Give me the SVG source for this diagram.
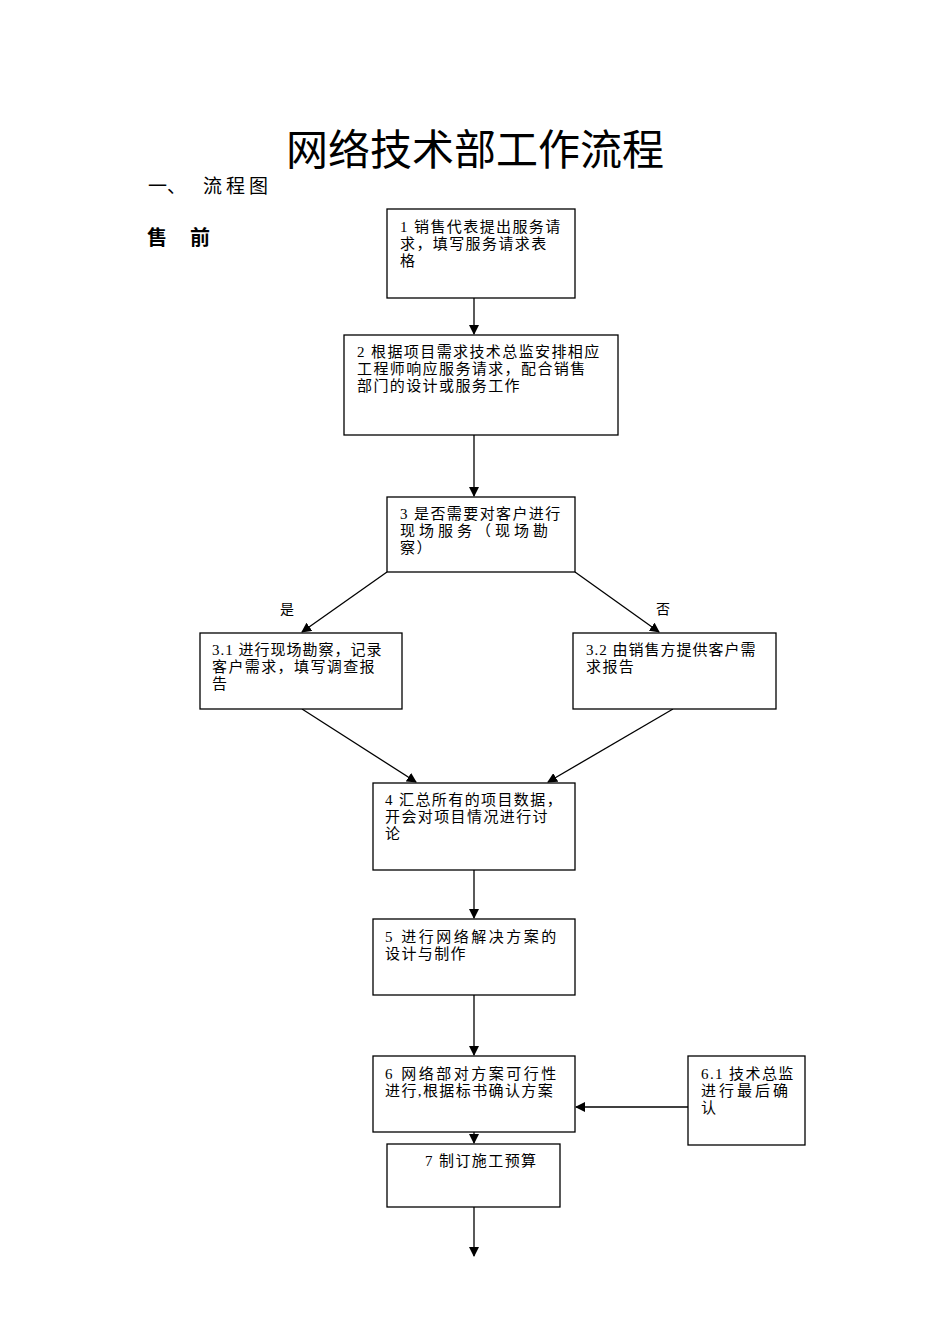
<svg xmlns="http://www.w3.org/2000/svg" width="950" height="1344" viewBox="0 0 950 1344">
<style>
text{font-family:"Liberation Serif","Noto Sans CJK SC",serif;fill:#000}
.b{fill:#fff;stroke:#000;stroke-width:1.3}
.t{font-size:15px;letter-spacing:1.4px}
.c{stroke:#000;stroke-width:1.3;fill:none;marker-end:url(#a)}
</style>
<defs><marker id="a" markerWidth="10" markerHeight="10" refX="9" refY="5" orient="auto" markerUnits="userSpaceOnUse"><path d="M0,0L10,5L0,10z" fill="#000"/></marker></defs>
<rect width="950" height="1344" fill="#fff"/>
<text x="475" y="165" font-size="42" text-anchor="middle" style="font-family:'Noto Sans CJK SC',serif">网络技术部工作流程</text>
<text x="148" y="193" font-size="19">一、</text>
<text x="203" y="193" font-size="19" letter-spacing="4">流程图</text>
<text x="147" y="245" font-size="20" font-weight="bold">售</text>
<text x="190" y="245" font-size="20" font-weight="bold">前</text>
<g id="connectors">
<line class="c" x1="474" y1="273" x2="474" y2="334"/>
<line class="c" x1="474" y1="435" x2="474" y2="496"/>
<line class="c" x1="387" y1="572" x2="302" y2="632"/>
<line class="c" x1="575" y1="572" x2="659" y2="632"/>
<line class="c" x1="302" y1="709" x2="416" y2="782"/>
<line class="c" x1="673" y1="709" x2="548" y2="782"/>
<line class="c" x1="474" y1="870" x2="474" y2="918"/>
<line class="c" x1="474" y1="995" x2="474" y2="1055"/>
<line class="c" x1="688" y1="1107" x2="576" y2="1107"/>
<line class="c" x1="474" y1="1107" x2="474" y2="1143"/>
<line class="c" x1="474" y1="1207" x2="474" y2="1256"/>
<text x="287" y="614" font-size="14" text-anchor="middle">是</text>
<text x="663" y="614" font-size="14" text-anchor="middle">否</text>
</g>
<g id="n1"><rect class="b" x="387" y="209" width="188" height="89"/><text class="t" x="400" y="232">1 销售代表提出服务请</text><text class="t" x="400" y="249">求，填写服务请求表</text><text class="t" x="400" y="266">格</text></g>
<g id="n2"><rect class="b" x="344" y="335" width="274" height="100"/><text class="t" x="357" y="357">2 根据项目需求技术总监安排相应</text><text class="t" x="357" y="374">工程师响应服务请求，配合销售</text><text class="t" x="357" y="391">部门的设计或服务工作</text></g>
<g id="n3"><rect class="b" x="387" y="497" width="188" height="75"/><text class="t" x="400" y="519">3 是否需要对客户进行</text><text class="t" x="400" y="536" style="letter-spacing:4px">现场服务（现场勘</text><text class="t" x="400" y="553">察）</text></g>
<g id="n31"><rect class="b" x="200" y="633" width="202" height="76"/><text class="t" x="212" y="655" style="letter-spacing:1px">3.1 进行现场勘察，记录</text><text class="t" x="212" y="672">客户需求，填写调查报</text><text class="t" x="212" y="689">告</text></g>
<g id="n32"><rect class="b" x="573" y="633" width="203" height="76"/><text class="t" x="586" y="655" style="letter-spacing:1px">3.2 由销售方提供客户需</text><text class="t" x="586" y="672">求报告</text></g>
<g id="n4"><rect class="b" x="373" y="783" width="202" height="87"/><text class="t" x="385" y="805">4 汇总所有的项目数据，</text><text class="t" x="385" y="822">开会对项目情况进行讨</text><text class="t" x="385" y="839">论</text></g>
<g id="n5"><rect class="b" x="373" y="919" width="202" height="76"/><text class="t" x="385" y="942" style="letter-spacing:2.5px">5 进行网络解决方案的</text><text class="t" x="385" y="959">设计与制作</text></g>
<g id="n6"><rect class="b" x="373" y="1056" width="202" height="76"/><text class="t" x="385" y="1079" style="letter-spacing:2.5px">6 网络部对方案可行性</text><text class="t" x="385" y="1096">进行,根据标书确认方案</text></g>
<g id="n61"><rect class="b" x="688" y="1056" width="117" height="89"/><text class="t" x="701" y="1079">6.1 技术总监</text><text class="t" x="701" y="1096" style="letter-spacing:3px">进行最后确</text><text class="t" x="701" y="1113">认</text></g>
<g id="n7"><rect class="b" x="387" y="1144" width="173" height="63"/><text class="t" x="425" y="1166">7 制订施工预算</text></g>
</svg>
